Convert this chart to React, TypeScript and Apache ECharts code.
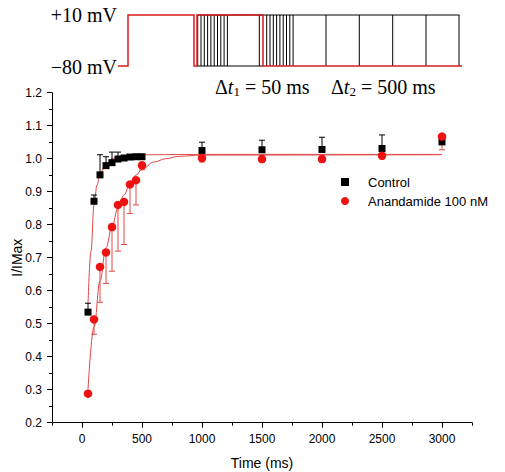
import React, { useEffect, useRef } from "react";
import * as echarts from "echarts";

// ---- Data ----
const timesMs = [50, 100, 150, 200, 250, 300, 350, 400, 450, 500, 1000, 1500, 2000, 2500, 3000];
const controlMean = [0.535, 0.871, 0.951, 0.979, 0.988, 0.999, 1.002, 1.005, 1.006, 1.006, 1.025, 1.027, 1.028, 1.031, 1.051];
const controlErrTop = [0.562, 0.89, 1.012, 1.006, 1.02, 1.02, 1.01, 1.01, 1.01, 1.01, 1.05, 1.056, 1.065, 1.072, 1.06];
const anaMean = [0.288, 0.513, 0.672, 0.716, 0.793, 0.86, 0.869, 0.922, 0.935, 0.98, 1.002, 0.999, 0.999, 1.009, 1.067];
const anaErrBottom = [0.28, 0.468, 0.565, 0.622, 0.659, 0.72, 0.74, 0.834, 0.86, 0.966, 0.99, 0.99, 0.99, 1.0, 1.027];

const controlFitX = [50, 75, 100, 125, 150, 200, 250, 300, 400, 500, 1000, 3000];
const controlFitY = [0.56, 0.72, 0.86, 0.92, 0.955, 0.985, 1.0, 1.007, 1.011, 1.012, 1.013, 1.013];
const anaFitX = [50, 100, 150, 200, 250, 300, 350, 400, 450, 500, 600, 700, 800, 1000, 3000];
const anaFitY = [0.3, 0.49, 0.63, 0.73, 0.795, 0.85, 0.89, 0.925, 0.95, 0.968, 0.99, 1.0, 1.007, 1.011, 1.012];

const xMajorTicks = [0, 500, 1000, 1500, 2000, 2500, 3000];
const seriesNames = ["Control", "Anandamide 100 nM"];

// ---- Protocol schematic geometry (drawing only) ----
const protoTop = 15;
const protoBase = 66;
const pulseGroupA = [197.7, 201, 204.3, 207.6, 210.9, 214.2, 217.5, 220.8, 224.1, 227.4, 259.3];
const pulseGroupB = [266.7, 270, 273.3, 276.6, 279.9, 283.2, 286.5, 289.8, 293.1, 326, 359.3, 392.7, 426, 459];

const SANS = "'Liberation Sans', Arial, sans-serif";
const SERIF = "'Liberation Serif', 'Times New Roman', serif";
const RED = "#ee1111";
const FIT_RED = "#e04848";

function errorBarRender(color: string, width: number) {
  return (params: any, api: any) => {
    const x = api.value(0);
    const lo = api.coord([x, api.value(1)]);
    const hi = api.coord([x, api.value(2)]);
    const cap = 3;
    return {
      type: "group",
      children: [
        { type: "line", shape: { x1: lo[0], y1: lo[1], x2: hi[0], y2: hi[1] }, style: { stroke: color, lineWidth: width } },
        { type: "line", shape: { x1: hi[0] - cap, y1: hi[1], x2: hi[0] + cap, y2: hi[1] }, style: { stroke: color, lineWidth: width } },
        { type: "line", shape: { x1: lo[0] - cap, y1: lo[1], x2: lo[0] + cap, y2: lo[1] }, style: { stroke: color, lineWidth: width } },
      ],
    };
  };
}

export default function App() {
  const ref = useRef<HTMLDivElement>(null);
  useEffect(() => {
    if (!ref.current) return;
    const chart = echarts.init(ref.current, undefined, { renderer: "svg" });

    const graphic: any[] = [];
    // black sweeps
    graphic.push({ type: "line", shape: { x1: 197, y1: protoTop, x2: 459.5, y2: protoTop }, style: { stroke: "#000", lineWidth: 1 } });
    graphic.push({ type: "line", shape: { x1: 197, y1: protoBase, x2: 263, y2: protoBase }, style: { stroke: "#000", lineWidth: 1 } });
    [...pulseGroupA, ...pulseGroupB].forEach((px) => {
      graphic.push({ type: "line", shape: { x1: px, y1: protoTop, x2: px, y2: protoBase }, style: { stroke: "#000", lineWidth: 1 } });
    });
    // red trace
    graphic.push({
      type: "polyline",
      shape: {
        points: [
          [118, protoBase], [128, protoBase], [128, protoTop], [194, protoTop], [194, protoBase],
          [197, protoBase], [197, protoTop], [263, protoTop], [263, protoBase], [462, protoBase],
        ],
      },
      style: { stroke: "#d91c1c", lineWidth: 1.5, fill: null },
    });
    graphic.push({ type: "text", x: 117, y: 15, style: { text: "+10 mV", font: `20px ${SERIF}`, fill: "#000", align: "right", verticalAlign: "middle" } });
    graphic.push({ type: "text", x: 117, y: 67, style: { text: "\u221280 mV", font: `20px ${SERIF}`, fill: "#000", align: "right", verticalAlign: "middle" } });
    const rich = {
      a: { fontFamily: SERIF, fontSize: 20, fill: "#000", color: "#000" },
      i: { fontFamily: SERIF, fontSize: 20, fontStyle: "italic", color: "#000" },
      s: { fontFamily: SERIF, fontSize: 13, color: "#000", padding: [8, 0, 0, 0] },
    };
    graphic.push({ type: "text", x: 215, y: 87, style: { text: "{a|\u0394}{i|t}{s|1}{a| = 50 ms}", rich, verticalAlign: "middle", align: "left" } });
    graphic.push({ type: "text", x: 331, y: 87, style: { text: "{a|\u0394}{i|t}{s|2}{a| = 500 ms}", rich, verticalAlign: "middle", align: "left" } });

    const axisLabelStyle = { fontFamily: SANS, fontSize: 12, color: "#000" };

    chart.setOption({
      animation: false,
      backgroundColor: "#fff",
      graphic,
      grid: { left: 52, right: 33, top: 92.7, bottom: 49.3, containLabel: false, outerBoundsMode: "none" },
      legend: {
        data: [
          { name: seriesNames[0], icon: "rect" },
          { name: seriesNames[1], icon: "circle" },
        ],
        orient: "vertical",
        left: 336,
        top: 170,
        itemWidth: 8,
        itemHeight: 8,
        itemGap: 5,
        textStyle: { fontFamily: SANS, fontSize: 13, color: "#000", padding: [0, 0, 0, 14], lineHeight: 14 },
      },
      xAxis: [
        {
          type: "value",
          min: -250,
          max: 3250,
          interval: 250,
          name: "Time (ms)",
          nameLocation: "middle",
          nameGap: 33,
          nameMoveOverlap: false,
          nameTextStyle: { fontFamily: SANS, fontSize: 14, color: "#000" },
          axisLine: { show: true, onZero: false, lineStyle: { color: "#000", width: 1 } },
          axisTick: { show: true, length: 3, lineStyle: { color: "#000" } },
          axisLabel: { ...axisLabelStyle, margin: 10, customValues: xMajorTicks, formatter: (v: number) => String(v) },
          splitLine: { show: false },
        },
        {
          type: "value",
          min: -250,
          max: 3250,
          position: "bottom",
          axisLine: { show: false, onZero: false },
          axisTick: { show: true, length: 5, customValues: xMajorTicks, lineStyle: { color: "#000" } },
          axisLabel: { show: false },
          splitLine: { show: false },
        },
      ],
      yAxis: {
        type: "value",
        min: 0.2,
        max: 1.2,
        interval: 0.1,
        name: "I/IMax",
        nameLocation: "middle",
        nameGap: 28,
        nameMoveOverlap: false,
        nameTextStyle: { fontFamily: SANS, fontSize: 14, color: "#000" },
        axisLine: { show: true, onZero: false, lineStyle: { color: "#000", width: 1 } },
        axisTick: { show: true, length: 5, lineStyle: { color: "#000" } },
        minorTick: { show: true, splitNumber: 2, length: 3, lineStyle: { color: "#000" } },
        axisLabel: { ...axisLabelStyle, margin: 10, formatter: (v: number) => v.toFixed(1) },
        splitLine: { show: false },
      },
      series: [
        {
          type: "line",
          data: controlFitX.map((x, i) => [x, controlFitY[i]]),
          smooth: 0.4,
          smoothMonotone: "x",
          showSymbol: false,
          symbol: "none",
          lineStyle: { color: FIT_RED, width: 1 },
          silent: true,
          z: 1,
        },
        {
          type: "line",
          data: anaFitX.map((x, i) => [x, anaFitY[i]]),
          smooth: 0.4,
          smoothMonotone: "x",
          showSymbol: false,
          symbol: "none",
          lineStyle: { color: FIT_RED, width: 1 },
          silent: true,
          z: 1,
        },
        {
          type: "custom",
          renderItem: errorBarRender("#000", 1),
          data: timesMs.map((x, i) => [x, controlMean[i], controlErrTop[i]]),
          silent: true,
          z: 2,
        },
        {
          type: "custom",
          renderItem: errorBarRender(FIT_RED, 1),
          data: timesMs.map((x, i) => [x, anaErrBottom[i], anaMean[i]]),
          silent: true,
          z: 2,
        },
        {
          name: seriesNames[0],
          type: "scatter",
          symbol: "rect",
          symbolSize: 7,
          itemStyle: { color: "#000", opacity: 1 },
          data: timesMs.map((x, i) => [x, controlMean[i]]),
          z: 3,
        },
        {
          name: seriesNames[1],
          type: "scatter",
          symbol: "circle",
          symbolSize: 8.5,
          itemStyle: { color: RED, opacity: 1 },
          data: timesMs.map((x, i) => [x, anaMean[i]]),
          z: 4,
        },
      ],
    });
    return () => chart.dispose();
  }, []);
  return <div ref={ref} style={{ position: "fixed", left: 0, top: 0, width: 505, height: 472, background: "#fff" }} />;
}
